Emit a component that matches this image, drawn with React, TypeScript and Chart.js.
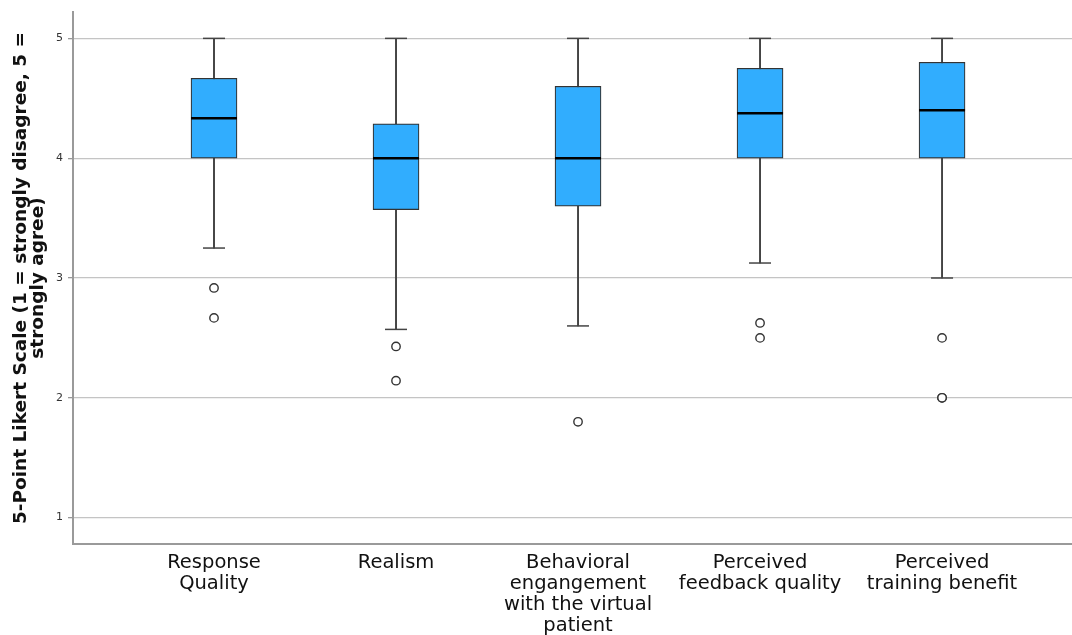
import React, { useEffect, useRef } from "react";
import { Chart, registerables } from "chart.js";

Chart.register(...registerables);

const categories: string[][] = [
  ["Response", "Quality"],
  ["Realism"],
  ["Behavioral", "engangement", "with the virtual", "patient"],
  ["Perceived", "feedback quality"],
  ["Perceived", "training benefit"],
];
const whiskerLow = [3.25, 2.571, 2.6, 3.125, 3.0];
const q1 = [4.0, 3.571, 3.6, 4.0, 4.0];
const median = [4.333, 4.0, 4.0, 4.375, 4.4];
const q3 = [4.667, 4.286, 4.6, 4.75, 4.8];
const whiskerHigh = [5, 5, 5, 5, 5];
const outliers: number[][] = [
  [2.917, 2.667],
  [2.429, 2.143],
  [1.8],
  [2.625, 2.5],
  [2.5, 2.0, 2.0],
];
const yTicks = [1, 2, 3, 4, 5];
const yTitle = ["5-Point Likert Scale (1 = strongly disagree, 5 =", "strongly agree)"];

export default function App() {
  const ref = useRef<HTMLCanvasElement | null>(null);
  useEffect(() => {
    if (!ref.current) return;
    const xs = categories.map((_, i) => i + 1);
    const chart = new Chart(ref.current, {
      type: "bar",
      data: {
        datasets: [
          {
            type: "bar",
            label: "whisker",
            data: xs.map((x, i) => ({ x, y: [whiskerLow[i], whiskerHigh[i]] })) as any,
            backgroundColor: "#444444",
            borderWidth: 0,
            barThickness: 1.3,
            grouped: false,
            order: 5,
          } as any,
          {
            type: "bar",
            label: "box",
            data: xs.map((x, i) => ({ x, y: [q1[i], q3[i]] })) as any,
            backgroundColor: "#31adfe",
            borderColor: "#333333",
            borderWidth: 1.2,
            borderSkipped: false,
            barThickness: 46,
            grouped: false,
            order: 4,
          } as any,
          {
            type: "scatter",
            label: "caps",
            data: xs.flatMap((x, i) => [
              { x, y: whiskerLow[i] },
              { x, y: whiskerHigh[i] },
            ]),
            pointStyle: "line",
            pointRadius: 11,
            borderColor: "#444444",
            borderWidth: 1.5,
            order: 3,
          } as any,
          {
            type: "scatter",
            label: "median",
            data: xs.map((x, i) => ({ x, y: median[i] })),
            pointStyle: "line",
            pointRadius: 23,
            borderColor: "#000000",
            borderWidth: 2.5,
            order: 2,
          } as any,
          {
            type: "scatter",
            label: "outliers",
            data: xs.flatMap((x, i) => outliers[i].map((y) => ({ x, y }))),
            pointStyle: "circle",
            pointRadius: 4.2,
            backgroundColor: "#ffffff",
            borderColor: "#333333",
            borderWidth: 1.4,
            order: 1,
          } as any,
        ],
      },
      options: {
        animation: false,
        responsive: false,
        maintainAspectRatio: false,
        layout: { autoPadding: false, padding: { top: 12, right: 0, left: 0, bottom: 0 } },
        plugins: { legend: { display: false }, tooltip: { enabled: false } },
        scales: {
          x: {
            type: "linear",
            offset: false,
            min: 0.2253,
            max: 5.714,
            afterBuildTicks: (s: any) => {
              s.ticks = xs.map((v) => ({ value: v }));
            },
            afterFit: (s: any) => {
              s.height = 91;
              s.paddingLeft = 0;
              s.paddingRight = 0;
            },
            grid: { display: false, drawTicks: false },
            border: { display: true, color: "#9a9a9a", width: 2 },
            ticks: {
              autoSkip: false,
              maxRotation: 0,
              padding: 8,
              color: "#111111",
              font: { family: "DejaVu Sans", size: 19.5, lineHeight: 1.08 },
              callback: (v: any) => categories[Math.round(Number(v)) - 1] ?? "",
            },
          },
          y: {
            type: "linear",
            min: 0.78,
            max: 5.22,
            afterBuildTicks: (s: any) => {
              s.ticks = yTicks.map((v) => ({ value: v }));
            },
            afterFit: (s: any) => {
              s.width = 73;
              s.paddingTop = 0;
              s.paddingBottom = 0;
            },
            grid: { color: "#c4c4c4", lineWidth: 1.3, tickLength: 5, tickColor: "#999999" },
            border: { display: true, color: "#9a9a9a", width: 2 },
            ticks: {
              color: "#333333",
              padding: 5,
              font: { family: "DejaVu Sans", size: 11 },
            },
            title: {
              display: true,
              text: yTitle,
              color: "#111111",
              font: { family: "DejaVu Sans", size: 18.5, weight: "bold", lineHeight: 0.95 },
              padding: { top: 12, bottom: 0 },
            },
          },
        },
      },
    });
    return () => chart.destroy();
  }, []);
  return (
    <div style={{ position: "fixed", left: 0, top: 0, width: 1072, height: 635, background: "#fff" }}>
      <canvas ref={ref} width={1072} height={635} style={{ width: 1072, height: 635 }} />
    </div>
  );
}
